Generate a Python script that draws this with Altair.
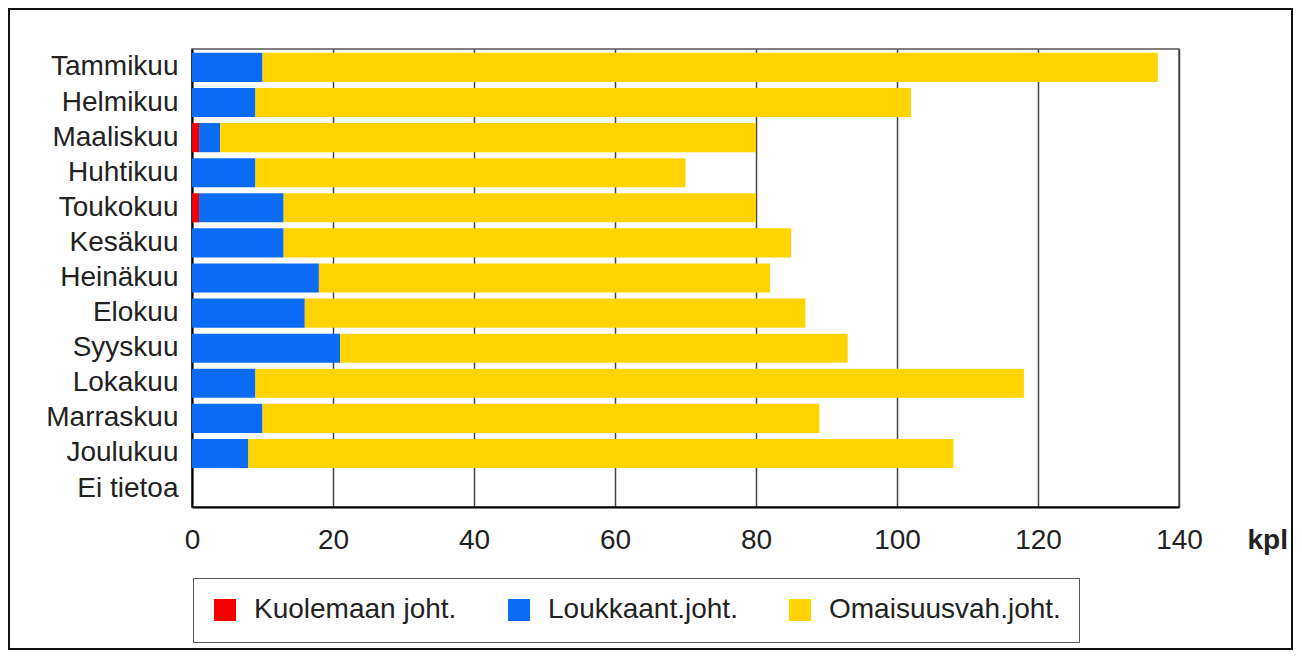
import altair as alt
import pandas as pd

months = ["Tammikuu", "Helmikuu", "Maaliskuu", "Huhtikuu", "Toukokuu", "Kesäkuu",
          "Heinäkuu", "Elokuu", "Syyskuu", "Lokakuu", "Marraskuu", "Joulukuu", "Ei tietoa"]
kuolemaan = [0, 0, 1, 0, 1, 0, 0, 0, 0, 0, 0, 0, 0]
loukkaant = [10, 9, 3, 9, 12, 13, 18, 16, 21, 9, 10, 8, 0]
omaisuus = [127, 93, 76, 61, 67, 72, 64, 71, 72, 109, 79, 100, 0]

series = ["Kuolemaan joht.", "Loukkaant.joht.", "Omaisuusvah.joht."]
colors = ["#f20000", "#0a6cf5", "#ffd400"]
x_ticks = [0, 20, 40, 60, 80, 100, 120, 140]

rows = []
for i, m in enumerate(months):
    for k, (s, vals) in enumerate(zip(series, [kuolemaan, loukkaant, omaisuus])):
        rows.append({"month": m, "series": s, "value": vals[i], "k": k})
df = pd.DataFrame(rows)

FONT = "Liberation Sans"
FS = 28

bars = alt.Chart(df).mark_bar().encode(
    y=alt.Y("month:N", sort=months,
            scale=alt.Scale(domain=months, paddingInner=0.17, paddingOuter=0.11),
            axis=alt.Axis(title=None, domainColor="#000", domainWidth=2, tickSize=0,
                          labelFont=FONT, labelFontSize=FS, labelColor="#222",
                          labelPadding=14, labelLimit=400, grid=False)),
    x=alt.X("sum(value):Q", stack="zero",
            scale=alt.Scale(domain=[0, 140], nice=False),
            axis=alt.Axis(values=x_ticks, grid=True, gridColor="#444", gridWidth=1.5,
                          domainColor="#000", domainWidth=2, tickSize=0,
                          labelFont=FONT, labelFontSize=FS, labelColor="#222",
                          labelPadding=19, labelFlush=False,
                          title="kpl", titleFont=FONT, titleFontSize=FS,
                          titleFontWeight="bold", titleColor="#222",
                          titleX=1055, titleY=41, titleAlign="left",
                          titleBaseline="alphabetic")),
    color=alt.Color("series:N", scale=alt.Scale(domain=series, range=colors),
                    legend=alt.Legend(orient="none", legendX=1, legendY=529,
                                      direction="horizontal", title=None,
                                      symbolType="square", symbolSize=484,
                                      symbolStrokeWidth=0, symbolOpacity=1,
                                      labelFont=FONT, labelFontSize=FS,
                                      labelColor="#222", labelOffset=15,
                                      labelLimit=500,
                                      columnPadding=48, padding=18,
                                      strokeColor="#555", fillColor="white")),
    order=alt.Order("k:Q", sort="ascending"),
)

frame = alt.Chart(pd.DataFrame({"a": [0]})).mark_rect(
    fill=None, stroke="#111", strokeWidth=2, clip=False
).encode(
    x=alt.value(-183), x2=alt.value(1100), y=alt.value(-40), y2=alt.value(600)
)

chart = alt.layer(bars, frame).properties(
    width=987, height=458,
    autosize=alt.AutoSizeParams(type="none"),
    padding={"left": 184, "top": 41, "right": 114, "bottom": 143},
    background="white",
).configure_view(stroke="#555", strokeWidth=1.5)

chart.save("out.html", embed_options={"renderer": "svg", "actions": False})
